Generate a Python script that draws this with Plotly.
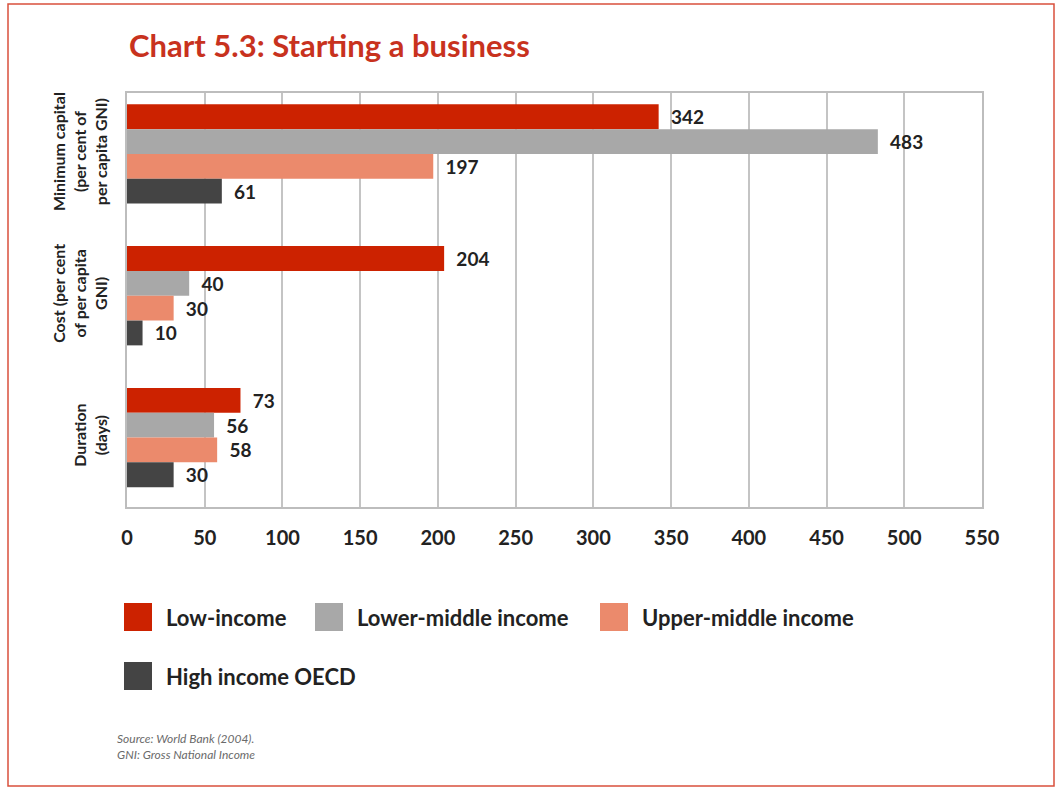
import plotly.graph_objects as go

categories = ["Minimum capital<br>(per cent of<br>per capita GNI)",
              "Cost (per cent<br>of per capita<br>GNI)",
              "Duration<br>(days)"]
series_names = ["Low-income", "Lower-middle income", "Upper-middle income", "High income OECD"]
low_income = [342, 204, 73]
lower_middle = [483, 40, 56]
upper_middle = [197, 30, 58]
high_oecd = [61, 10, 30]
x_ticks = [0, 50, 100, 150, 200, 250, 300, 350, 400, 450, 500, 550]

colors = ["#CC2200", "#A8A8A8", "#EB8A6C", "#444444"]
values = [low_income, lower_middle, upper_middle, high_oecd]

FONT = "Lato"

fig = go.Figure()
for name, vals, col in zip(series_names, values, colors):
    fig.add_trace(go.Bar(
        y=categories, x=vals, name=name, orientation="h",
        marker=dict(color=col, line=dict(width=0)),
        text=["\u00a0\u00a0" + str(v) for v in vals], textposition="outside",
        textfont=dict(family=FONT, size=19, color="#222222", weight="bold"),
        cliponaxis=False,
        showlegend=False,
    ))

fig.update_layout(
    width=1057, height=789,
    margin=dict(l=127, r=75, t=93, b=282),
    paper_bgcolor="white", plot_bgcolor="white",
    barmode="group", bargap=0.3, bargroupgap=0.0,
    font=dict(family=FONT, color="#222222"),
    showlegend=False,
)
fig.update_xaxes(
    range=[0, 550], tickvals=x_ticks, ticktext=[str(t) for t in x_ticks],
    showgrid=True, gridcolor="#C4C4C4", gridwidth=1.5,
    showline=True, linecolor="#BDBDBD", linewidth=1.5, mirror=True,
    ticks="", ticklabelstandoff=12,
    tickfont=dict(family=FONT, size=20, color="#222222", weight="bold"),
    zeroline=False,
)
fig.update_yaxes(
    type="category", range=[2.49, -0.43],
    showline=True, linecolor="#BDBDBD", linewidth=1.5, mirror=True,
    showgrid=False, ticks="", tickangle=-90, ticklabelstandoff=12,
    tickfont=dict(family=FONT, size=16, color="#222222", weight="bold"),
)

# Title
fig.add_annotation(
    xref="paper", yref="paper", x=0.0, y=1.0, yshift=27,
    xanchor="left", yanchor="bottom", showarrow=False,
    text="<b>Chart 5.3: Starting a business</b>",
    font=dict(family=FONT, size=31, color="#C8321E"),
)

# Manual legend (swatches + labels)
legend_pos = [(124, 617), (315, 617), (600, 617), (124, 676)]
for (px, py), name, col in zip(legend_pos, series_names, colors):
    fig.add_shape(type="rect", xref="paper", yref="paper",
                  x0=(px - 127) / 855, x1=(px + 28 - 127) / 855,
                  y0=(507 - (py + 14)) / 414, y1=(507 - (py - 14)) / 414,
                  fillcolor=col, line=dict(width=0))
    fig.add_annotation(xref="paper", yref="paper",
                       x=(px + 40 - 127) / 855, y=(507 - py) / 414,
                       xanchor="left", yanchor="middle", showarrow=False,
                       text=f"<b>{name}</b>",
                       font=dict(family=FONT, size=22, color="#222222"))

# Source note
fig.add_annotation(xref="paper", yref="paper",
                   x=(115 - 127) / 855, y=(507 - 746) / 414,
                   xanchor="left", yanchor="middle", showarrow=False, align="left",
                   text="<i>Source: World Bank (2004).<br>GNI: Gross National Income</i>",
                   font=dict(family=FONT, size=12, color="#6A6A6A"))

# Outer red border
fig.add_shape(type="rect", xref="paper", yref="paper",
              x0=(8 - 127) / 855, x1=(1054 - 127) / 855,
              y0=(507 - 786) / 414, y1=(507 - 4) / 414,
              line=dict(color="#D9503C", width=1.5), fillcolor="rgba(0,0,0,0)",
              layer="below")

fig.write_html("out.html", config={"displayModeBar": False},
               post_script="document.body.style.margin='0px';")
